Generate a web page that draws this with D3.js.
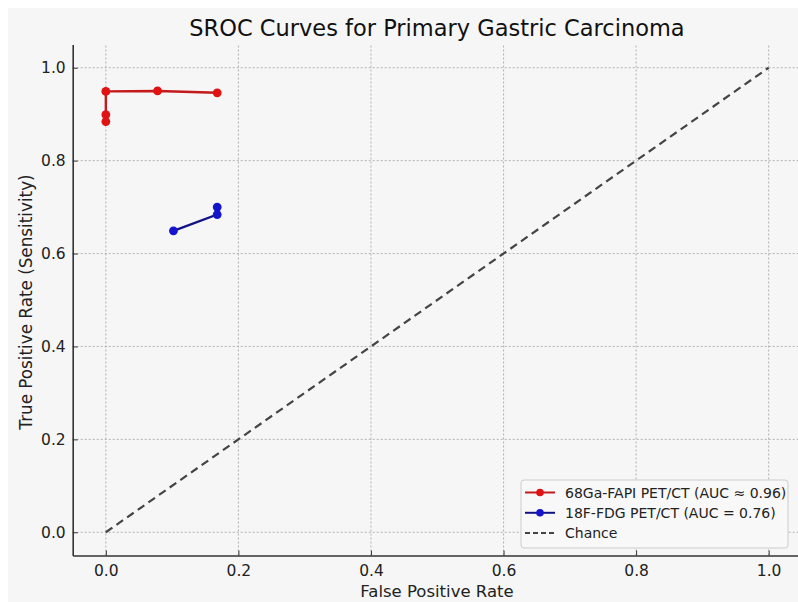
<!DOCTYPE html>
<html><head><meta charset="utf-8">
<script src="https://cdn.jsdelivr.net/npm/d3@7"></script>
<style>
html,body{margin:0;padding:0;background:#fff;}
svg{display:block;font-family:"DejaVu Sans",sans-serif;}
</style></head>
<body>
<script>
const fapiFPR = [0, 0, 0, 0.078, 0.168];
const fapiTPR = [0.884, 0.899, 0.949, 0.950, 0.946];
const fdgFPR = [0.102, 0.168, 0.168];
const fdgTPR = [0.649, 0.684, 0.700];
const chanceX = [0, 1];
const chanceY = [0, 1];
const tickValues = [0, 0.2, 0.4, 0.6, 0.8, 1.0];
const seriesNames = ["68Ga-FAPI PET/CT (AUC \u2248 0.96)", "18F-FDG PET/CT (AUC = 0.76)", "Chance"];

const W = 798, H = 602;
const svg = d3.select("body").append("svg").attr("width", W).attr("height", H);
svg.append("rect").attr("x", 8).attr("y", 8).attr("width", W - 8).attr("height", H - 8).attr("fill", "#f6f6f6");

const x = d3.scaleLinear().domain([-0.05, 1.05]).range([72.7, 801.8]);
const y = d3.scaleLinear().domain([-0.05, 1.05]).range([555.5, 44.5]);

// grid
const grid = svg.append("g");
tickValues.forEach(v => {
  grid.append("line").attr("x1", x(v)).attr("x2", x(v)).attr("y1", y(-0.05)).attr("y2", y(1.05))
    .attr("stroke", "#aaa").attr("stroke-width", 0.9).attr("stroke-dasharray", "2,2");
  grid.append("line").attr("x1", x(-0.05)).attr("x2", x(1.05)).attr("y1", y(v)).attr("y2", y(v))
    .attr("stroke", "#aaa").attr("stroke-width", 0.9).attr("stroke-dasharray", "2,2");
});

// chance
const line = d3.line().x(d => x(d[0])).y(d => y(d[1]));
svg.append("path").attr("d", line(d3.zip(chanceX, chanceY))).attr("fill", "none")
  .attr("stroke", "#444").attr("stroke-width", 2.2).attr("stroke-dasharray", "8,5");

function series(xs, ys, lc, mc) {
  const pts = d3.zip(xs, ys);
  svg.append("path").attr("d", line(pts)).attr("fill", "none").attr("stroke", lc).attr("stroke-width", 2.4);
  svg.append("g").selectAll("circle").data(pts).join("circle")
    .attr("cx", d => x(d[0])).attr("cy", d => y(d[1])).attr("r", 4.4).attr("fill", mc);
}
series(fapiFPR, fapiTPR, "#c41a1a", "#e01212");
series(fdgFPR, fdgTPR, "#121288", "#1414cc");

// axes
const fmt = d3.format(".1f");
const xAxis = svg.append("g").attr("transform", `translate(0,${y(-0.05)})`)
  .call(d3.axisBottom(x).tickValues(tickValues).tickFormat(fmt).tickSizeInner(-5).tickSizeOuter(0).tickPadding(9));
const yAxis = svg.append("g").attr("transform", `translate(${x(-0.05)},0)`)
  .call(d3.axisLeft(y).tickValues(tickValues).tickFormat(fmt).tickSizeInner(-5).tickSizeOuter(0).tickPadding(7));
[xAxis, yAxis].forEach(a => {
  a.select(".domain").attr("stroke", "#333").attr("stroke-width", 1.6);
  a.selectAll(".tick line").attr("stroke", "#333").attr("stroke-width", 1);
  a.selectAll(".tick text").attr("fill", "#222").style("font-size", "15.5px").style("font-family", "DejaVu Sans");
});

// labels
svg.append("text").attr("x", 437).attr("y", 36).attr("text-anchor", "middle")
  .style("font-size", "22.5px").attr("fill", "#111").text("SROC Curves for Primary Gastric Carcinoma");
svg.append("text").attr("x", 437).attr("y", 597).attr("text-anchor", "middle")
  .style("font-size", "16.5px").attr("fill", "#222").text("False Positive Rate");
svg.append("text").attr("transform", "translate(32,302) rotate(-90)").attr("text-anchor", "middle")
  .style("font-size", "16.8px").attr("fill", "#222").text("True Positive Rate (Sensitivity)");

// legend
const lg = svg.append("g");
lg.append("rect").attr("x", 521).attr("y", 480).attr("width", 267).attr("height", 68).attr("rx", 3)
  .attr("fill", "#f8f8f8").attr("stroke", "#ccc").attr("stroke-width", 1);
const rows = [
  {name: seriesNames[0], lc: "#c41a1a", mc: "#e01212", dash: null},
  {name: seriesNames[1], lc: "#121288", mc: "#1414cc", dash: null},
  {name: seriesNames[2], lc: "#444", mc: null, dash: "5,3"}
];
rows.forEach((r, i) => {
  const yy = 492.5 + i * 20.3;
  lg.append("line").attr("x1", 525).attr("x2", 555).attr("y1", yy).attr("y2", yy)
    .attr("stroke", r.lc).attr("stroke-width", 2).attr("stroke-dasharray", r.dash);
  if (r.mc) lg.append("circle").attr("cx", 540).attr("cy", yy).attr("r", 3.8).attr("fill", r.mc);
  lg.append("text").attr("x", 565).attr("y", yy + 5).style("font-size", "14px").attr("fill", "#222").text(r.name);
});
</script>
</body></html>
